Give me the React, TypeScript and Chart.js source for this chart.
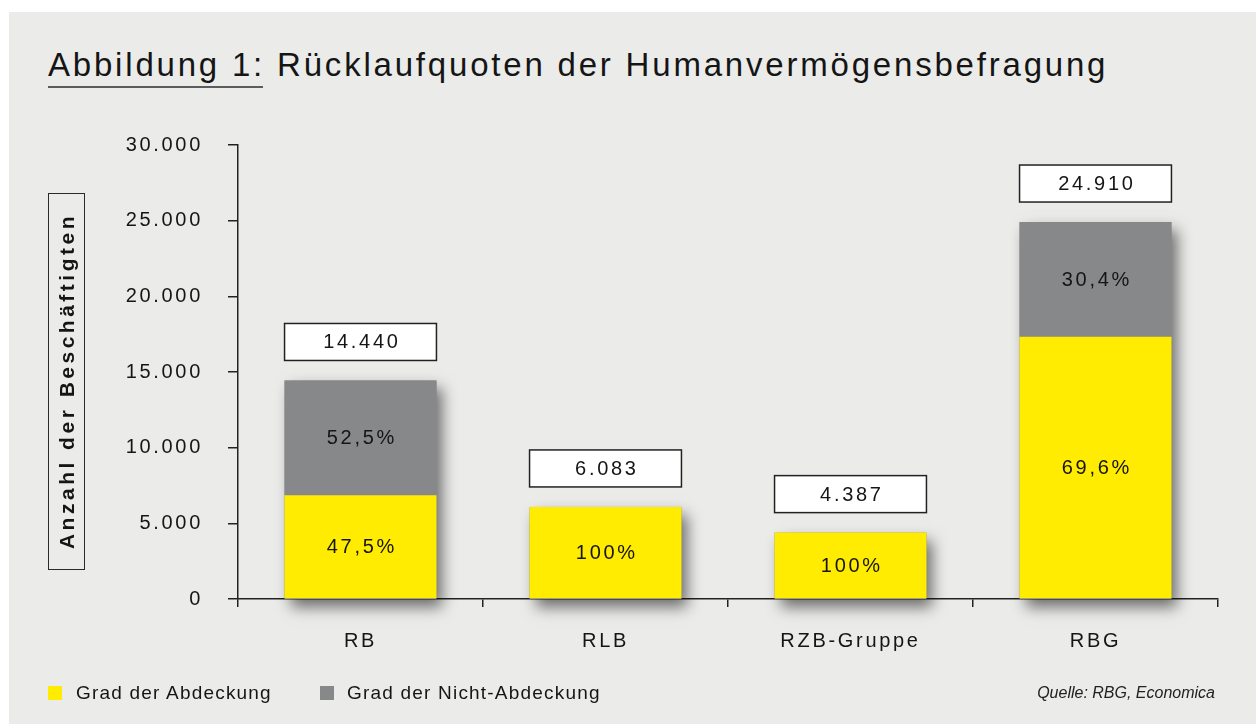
import React, { useEffect, useRef } from 'react';
import { Chart, registerables } from 'chart.js';
Chart.register(...registerables);

const categories = ['RB', 'RLB', 'RZB-Gruppe', 'RBG'];
const totals = [14440, 6083, 4387, 24910];
const covered = [6859, 6083, 4387, 17337];
const notCovered = [7581, 0, 0, 7573];
const coveredLabels = ['47,5%', '100%', '100%', '69,6%'];
const notCoveredLabels = ['52,5%', '', '', '30,4%'];
const yTicks = [0, 5000, 10000, 15000, 20000, 25000, 30000];
const seriesNames = ['Grad der Abdeckung', 'Grad der Nicht-Abdeckung'];
const seriesColors = ['#FFEC00', '#87888A'];

const FONT = '"Liberation Sans", Arial, Helvetica, sans-serif';
const SPACING = 2.7;
const INK = '#151515';
const AXIS = '#222222';

const fmt = (v: number) => String(v).replace(/\B(?=(\d{3})+(?!\d))/g, '.');

const spacingPlugin = {
  id: 'spacing',
  beforeUpdate(chart: any) {
    try { chart.ctx.letterSpacing = SPACING + 'px'; } catch (e) {}
  },
  beforeDraw(chart: any) {
    try { chart.ctx.letterSpacing = SPACING + 'px'; } catch (e) {}
  },
};

const shadowPlugin = {
  id: 'barShadow',
  beforeDatasetsDraw(chart: any) {
    const ctx = chart.ctx;
    const yScale = chart.scales.y;
    const metas = chart.data.datasets.map((_: any, di: number) => chart.getDatasetMeta(di));
    categories.forEach((_, i) => {
      const els = metas.map((m: any) => m.data[i]);
      const top = Math.min(...els.map((e: any) => e.y));
      const base = yScale.getPixelForValue(0);
      const el = els[0];
      const w = el.width;
      ctx.save();
      ctx.shadowColor = 'rgba(0,0,0,0.55)';
      ctx.shadowBlur = 14;
      ctx.shadowOffsetX = 6;
      ctx.shadowOffsetY = 8;
      ctx.fillStyle = '#888888';
      ctx.fillRect(el.x - w / 2, top, w, base - top);
      ctx.restore();
    });
  },
};

const labelPlugin = {
  id: 'barLabels',
  afterDatasetsDraw(chart: any) {
    const ctx = chart.ctx;
    const segLabels = [coveredLabels, notCoveredLabels];
    ctx.save();
    ctx.font = '20px ' + FONT;
    ctx.textAlign = 'center';
    ctx.textBaseline = 'middle';
    ctx.fillStyle = INK;
    chart.data.datasets.forEach((_: any, di: number) => {
      const meta = chart.getDatasetMeta(di);
      meta.data.forEach((el: any, i: number) => {
        const lbl = segLabels[di][i];
        if (!lbl) return;
        ctx.fillText(lbl, el.x + SPACING / 2, (el.y + el.base) / 2 + 1);
      });
    });
    const metas = chart.data.datasets.map((_: any, di: number) => chart.getDatasetMeta(di));
    categories.forEach((_, i) => {
      const els = metas.map((m: any) => m.data[i]);
      const top = Math.min(...els.map((e: any) => e.y));
      const el = els[0];
      const w = el.width;
      const bh = 37;
      const by = top - 20 - bh;
      ctx.fillStyle = '#ffffff';
      ctx.fillRect(el.x - w / 2, by, w, bh);
      ctx.lineWidth = 1.5;
      ctx.strokeStyle = AXIS;
      ctx.strokeRect(el.x - w / 2, by, w, bh);
      ctx.fillStyle = INK;
      ctx.fillText(fmt(totals[i]), el.x + SPACING / 2, by + bh / 2 + 1);
    });
    ctx.restore();
  },
};

export default function App() {
  const ref = useRef<HTMLCanvasElement | null>(null);
  useEffect(() => {
    if (!ref.current) return;
    const chart = new Chart(ref.current, {
      type: 'bar',
      data: {
        labels: categories,
        datasets: [
          { label: seriesNames[0], data: covered, backgroundColor: seriesColors[0], borderWidth: 0, barPercentage: 0.62, categoryPercentage: 1 },
          { label: seriesNames[1], data: notCovered, backgroundColor: seriesColors[1], borderWidth: 0, barPercentage: 0.62, categoryPercentage: 1 },
        ],
      },
      options: {
        responsive: false,
        animation: false,
        devicePixelRatio: 1,
        layout: { padding: { left: 0, top: 145, right: 38, bottom: 0 } },
        plugins: { legend: { display: false }, tooltip: { enabled: false }, title: { display: false } },
        scales: {
          x: {
            stacked: true,
            z: 1,
            afterFit: (s: any) => { s.height = 125; },
            grid: { display: true, drawOnChartArea: false, drawTicks: true, tickLength: 8, color: AXIS, lineWidth: 1.5, offset: true },
            border: { display: true, color: AXIS, width: 1.5 },
            ticks: { color: INK, font: { family: FONT, size: 20 }, padding: 22, autoSkip: false, maxRotation: 0 },
          },
          y: {
            stacked: true,
            z: 1,
            min: 0,
            max: 30000,
            afterFit: (s: any) => { s.width = 238; },
            afterBuildTicks: (s: any) => { s.ticks = yTicks.map((v) => ({ value: v })); },
            grid: { display: true, drawOnChartArea: false, drawTicks: true, tickLength: 10, color: AXIS, lineWidth: 1.5 },
            border: { display: true, color: AXIS, width: 1.5 },
            ticks: { color: INK, font: { family: FONT, size: 20 }, padding: 25, callback: (v: any) => fmt(Number(v)) },
          },
        },
      },
      plugins: [spacingPlugin, shadowPlugin, labelPlugin],
    } as any);
    return () => chart.destroy();
  }, []);

  return (
    <div style={{ position: 'fixed', left: 0, top: 0, width: 1256, height: 724, background: '#ffffff', overflow: 'hidden', fontFamily: FONT, color: INK }}>
      <div style={{ position: 'absolute', left: 9, top: 12, right: 0, bottom: 0, background: '#EBECEA' }} />
      <div style={{ position: 'absolute', left: 48, top: 48, fontSize: 33, lineHeight: '33px', letterSpacing: '2.8px', whiteSpace: 'nowrap', color: INK }}>
        Abbildung 1: Rücklaufquoten der Humanvermögensbefragung
      </div>
      <div style={{ position: 'absolute', left: 48, top: 86, width: 215, height: 1.5, background: '#5c5c5c' }} />
      <canvas ref={ref} width={1256} height={724} style={{ position: 'absolute', left: 0, top: 0, width: 1256, height: 724 }} />
      <div style={{ position: 'absolute', left: 48, top: 193, width: 37, height: 377, boxSizing: 'border-box', border: '1.5px solid #2a2a2a', display: 'flex', alignItems: 'center', justifyContent: 'center' }}>
        <div style={{ writingMode: 'vertical-rl', transform: 'rotate(180deg)', fontWeight: 'bold', fontSize: 21, letterSpacing: '3.5px', whiteSpace: 'nowrap', lineHeight: 1 }}>
          Anzahl der Beschäftigten
        </div>
      </div>
      <div style={{ position: 'absolute', left: 48, top: 686, width: 14, height: 14, background: seriesColors[0] }} />
      <div style={{ position: 'absolute', left: 76, top: 682, fontSize: 19, lineHeight: '22px', letterSpacing: '1.2px', whiteSpace: 'nowrap' }}>{seriesNames[0]}</div>
      <div style={{ position: 'absolute', left: 320, top: 686, width: 14, height: 14, background: seriesColors[1] }} />
      <div style={{ position: 'absolute', left: 347, top: 682, fontSize: 19, lineHeight: '22px', letterSpacing: '1.2px', whiteSpace: 'nowrap' }}>{seriesNames[1]}</div>
      <div style={{ position: 'absolute', right: 41, top: 684, fontSize: 16, lineHeight: '18px', fontStyle: 'italic', whiteSpace: 'nowrap', color: '#222' }}>Quelle: RBG, Economica</div>
    </div>
  );
}
